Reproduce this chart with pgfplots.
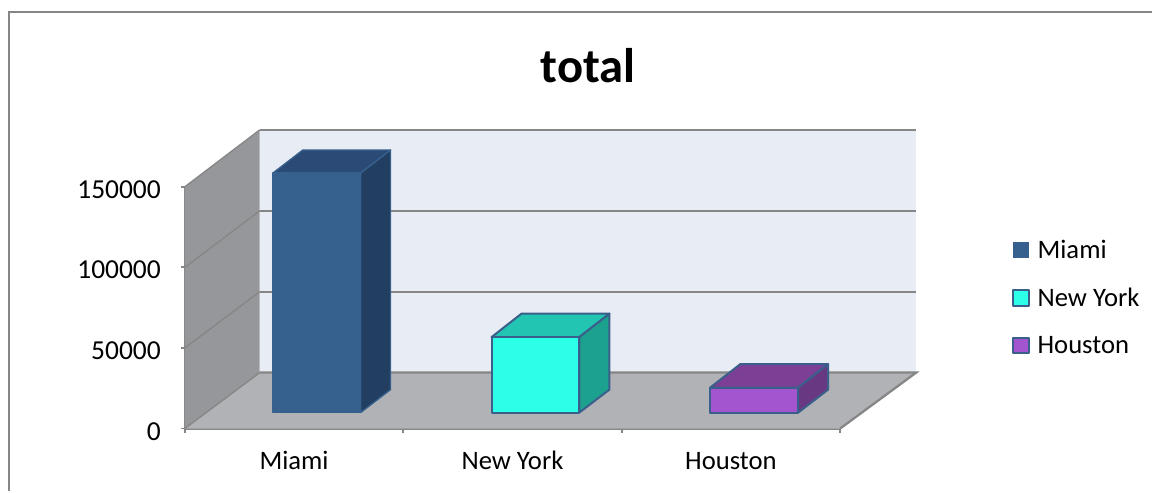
\documentclass[border=0pt]{standalone}
\usepackage{pgfplots}
\pgfplotsset{compat=1.18}
\usepackage{fontspec}
\setmainfont{Carlito}
\definecolor{gridc}{HTML}{868686}
\definecolor{backw}{HTML}{E8ECF5}
\definecolor{floorc}{HTML}{B0B2B5}
\definecolor{sidew}{HTML}{96979A}
\definecolor{edge}{HTML}{3A5F8B}
\definecolor{mf}{HTML}{36618F}\definecolor{mt}{HTML}{2C4A76}\definecolor{ms}{HTML}{223E60}
\definecolor{nf}{HTML}{2CFFE8}\definecolor{nt}{HTML}{22C4B2}\definecolor{ns}{HTML}{1DA18F}
\definecolor{hf}{HTML}{A355CF}\definecolor{ht}{HTML}{7D3F96}\definecolor{hs}{HTML}{683882}
\newcommand{\lab}{\fontsize{20.6}{24}\selectfont}
\newcommand{\labb}{\fontsize{20}{24}\selectfont}
\begin{document}
\begin{tikzpicture}
\begin{axis}[
  scale only axis, width=492pt, height=181.5pt,
  xmin=0, xmax=3, ymin=0, ymax=150000, clip=false,
  axis x line=bottom, axis y line=left,
  axis line style={-, draw=gridc, line width=1.7pt},
  tick style={draw=gridc, line width=1.4pt},
  major tick length=6pt,
  xtick={0,1,2,3}, xticklabels={},
  extra x ticks={0.5,1.5,2.5},
  extra x tick labels={Miami,New York,Houston},
  extra x tick style={major tick length=0pt, tick label style={yshift=-13.5pt, font=\labb, text height=14pt, text depth=4pt}},
  ytick={0,50000,100000,150000},
  scaled y ticks=false,
  tick label style={font=\lab, text=black},
  y tick label style={xshift=-11.5pt, yshift=-2pt, /pgf/number format/.cd, fixed, 1000 sep={}, assume math mode=true},
  legend style={at={(axis cs:3.768,120500)}, anchor=north west, draw=none, fill=none,
    font=\labb, row sep=16.8pt, /tikz/every even column/.append style={column sep=0pt}},
  legend cell align=left,
]
% chart walls and floor
\addplot[fill=backw, draw=none, forget plot] coordinates {(0.343,34711)(3.348,34711)(3.348,185329)(0.343,185329)} -- cycle;
\addplot[fill=floorc, draw=none, forget plot] coordinates {(0,0)(3,0)(3.348,34711)(0.343,34711)} -- cycle;
\addplot[fill=sidew, draw=none, forget plot] coordinates {(0,0)(0.343,34711)(0.343,185329)(0,150000)} -- cycle;
% grid lines
\addplot[gridc, line width=1pt, forget plot] coordinates {(0,150000)(0.343,185329)};
\addplot[gridc, line width=1pt, forget plot] coordinates {(0,100000)(0.343,135123)};
\addplot[gridc, line width=1pt, forget plot] coordinates {(0,50000)(0.343,84917)};
\addplot[gridc, line width=1pt, forget plot] coordinates {(0,0)(0.343,34711)};
\addplot[gridc, line width=1.7pt, forget plot] coordinates {(0.343,185329)(3.348,185329)};
\addplot[gridc, line width=1.7pt, forget plot] coordinates {(0.343,135123)(3.348,135123)};
\addplot[gridc, line width=1.7pt, forget plot] coordinates {(0.343,84917)(3.348,84917)};
\addplot[gridc, line width=1.7pt, forget plot] coordinates {(0.343,34711)(3.348,34711)(3,0)};
% Miami
\addplot[fill=mt, draw=mf, line width=1pt, line join=round, forget plot] coordinates {(0.403,158500)(0.540,172800)(0.942,172800)(0.805,158500)} -- cycle;
\addplot[fill=ms, draw=mf, line width=1pt, line join=round, forget plot] coordinates {(0.805,9917)(0.942,24173)(0.942,172800)(0.805,158500)} -- cycle;
\addplot[fill=mf, draw=mf, line width=1pt, line join=round,
  legend image code/.code={\draw[fill=mf,draw=mf,line width=1pt] (0pt,-5.8pt) rectangle (11.6pt,5.8pt);\path (15.6pt,0pt);}]
  coordinates {(0.403,9917)(0.805,9917)(0.805,158500)(0.403,158500)} -- cycle;
\addlegendentry{Miami}
% New York
\addplot[fill=nt, draw=edge, line width=1.5pt, line join=round, forget plot] coordinates {(1.404,56714)(1.541,71280)(1.944,71280)(1.806,56714)} -- cycle;
\addplot[fill=ns, draw=edge, line width=1.5pt, line join=round, forget plot] coordinates {(1.806,9917)(1.944,24173)(1.944,71280)(1.806,56714)} -- cycle;
\addplot[fill=nf, draw=edge, line width=1.5pt, line join=round,
  legend image code/.code={\draw[fill=nf,draw=edge,line width=1.5pt] (0pt,-5.8pt) rectangle (11.6pt,5.8pt);\path (15.6pt,0pt);}]
  coordinates {(1.404,9917)(1.806,9917)(1.806,56714)(1.404,56714)} -- cycle;
\addlegendentry{New York}
% Houston
\addplot[fill=ht, draw=edge, line width=1.5pt, line join=round, forget plot] coordinates {(2.405,25413)(2.543,39979)(2.945,39979)(2.808,25413)} -- cycle;
\addplot[fill=hs, draw=edge, line width=1.5pt, line join=round, forget plot] coordinates {(2.808,9917)(2.945,24173)(2.945,39979)(2.808,25413)} -- cycle;
\addplot[fill=hf, draw=edge, line width=1.5pt, line join=round,
  legend image code/.code={\draw[fill=hf,draw=edge,line width=1.5pt] (0pt,-5.8pt) rectangle (11.6pt,5.8pt);\path (15.6pt,0pt);}]
  coordinates {(2.405,9917)(2.808,9917)(2.808,25413)(2.405,25413)} -- cycle;
\addlegendentry{Houston}
% page and chart frame
\path (axis cs:-0.846,265907) rectangle (axis cs:4.427,-39049);
\draw[gridc, line width=1.7pt] (axis cs:-0.805,-39049) -- (axis cs:-0.805,258469) -- (axis cs:4.427,258469);
\node[font=\fontsize{36.5}{40}\selectfont\bfseries, text=black] at (axis cs:1.846,225200) {total};
\end{axis}
\end{tikzpicture}
\end{document}
